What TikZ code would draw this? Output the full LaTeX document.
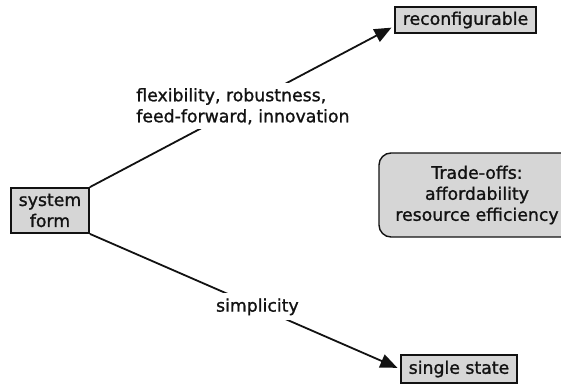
\documentclass[tikz,border=0pt]{standalone}
\usepackage{fontspec}
\setmainfont{DejaVu Sans}[FakeBold=1.2]
\usetikzlibrary{arrows.meta}
\definecolor{boxgray}{HTML}{D6D6D6}
\definecolor{ink}{HTML}{121212}
\begin{document}
\begin{tikzpicture}[x=1pt,y=-1pt,font=\fontsize{17.3}{21}\selectfont,text=ink]
\tikzset{
  box/.style={draw=ink, line width=1.8pt, fill=boxgray, inner sep=0pt, align=center},
  roundbox/.style={draw=ink, line width=1.4pt, fill=boxgray, inner sep=0pt, align=center, rounded corners=12pt},
  conn/.style={draw=ink, line width=1.8pt},
  arr/.style={conn, -{Triangle[length=17pt,width=14pt]}},
  lbl/.style={fill=white, inner sep=5pt}
}
\useasboundingbox (0,0) rectangle (561,385);
\node[box, minimum width=78pt, minimum height=45pt] (sf) at (50,210.5) {system\\form};
\node[box, minimum width=141pt, minimum height=26pt] (rc) at (465.5,20) {reconfigurable};
\node[box, minimum width=116pt, minimum height=28pt] (ss) at (459,369) {single state};
\node[roundbox, minimum width=196pt, minimum height=84pt] (to) at (477,195) {Trade-offs:\\affordability\\resource efficiency};
\draw[arr, shorten >=3pt] (sf.north east) -- node[lbl, align=left, pos=0.503] (l1) {flexibility, robustness,\\feed-forward, innovation} (rc.185);
\draw[arr, shorten >=3pt] (sf.south east) -- node[lbl, pos=0.54] (l2) {simplicity} (ss.west);
\end{tikzpicture}
\end{document}
